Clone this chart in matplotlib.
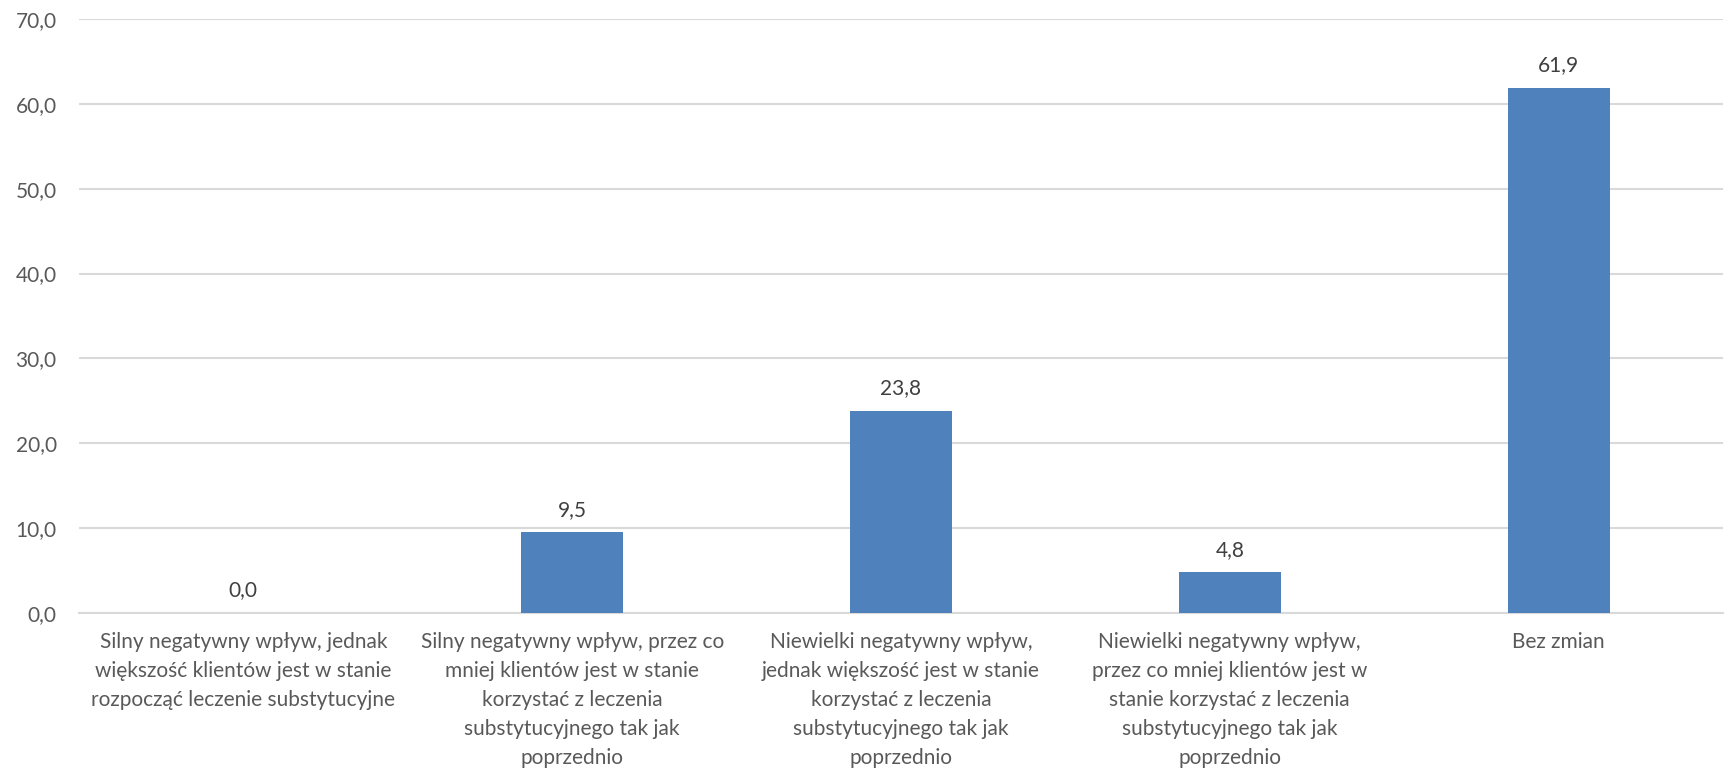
import matplotlib
matplotlib.use("Agg")
import matplotlib.pyplot as plt

categories = [
    "Silny negatywny wpływ, jednak\nwiększość klientów jest w stanie\nrozpocząć leczenie substytucyjne",
    "Silny negatywny wpływ, przez co\nmniej klientów jest w stanie\nkorzystać z leczenia\nsubstytucyjnego tak jak\npoprzednio",
    "Niewielki negatywny wpływ,\njednak większość jest w stanie\nkorzystać z leczenia\nsubstytucyjnego tak jak\npoprzednio",
    "Niewielki negatywny wpływ,\nprzez co mniej klientów jest w\nstanie korzystać z leczenia\nsubstytucyjnego tak jak\npoprzednio",
    "Bez zmian",
]
values = [0.0, 9.5, 23.8, 4.8, 61.9]
y_ticks = [0, 10, 20, 30, 40, 50, 60, 70]

plt.rcParams['font.family'] = ['Lato', 'DejaVu Sans']
text_color = '#595959'

fig = plt.figure(figsize=(17.27, 7.75), dpi=100)
ax = fig.add_axes([0.0457, 0.209, 0.952, 0.7665])

x = list(range(len(categories)))
ax.bar(x, values, width=0.31, color='#4f81bd', zorder=3)

for xi, v in zip(x, values):
    ax.annotate(f"{v:.1f}".replace('.', ','), (xi, v), xytext=(0, 9),
                textcoords='offset points', ha='center', va='bottom',
                fontsize=15, color='#404040')

ax.set_xlim(-0.5, len(categories) - 0.5)
ax.set_ylim(0, 70)
ax.set_yticks(y_ticks)
ax.set_yticklabels([f"{t:.1f}".replace('.', ',') for t in y_ticks],
                   fontsize=15, color=text_color)
ax.set_xticks(x)
ax.set_xticklabels(categories, fontsize=15, color=text_color, linespacing=1.55)

ax.yaxis.grid(True, color='#d9d9d9', linewidth=1.5, zorder=0)
ax.set_axisbelow(True)
for s in ['top', 'right', 'left']:
    ax.spines[s].set_visible(False)
ax.spines['bottom'].set_color('#d9d9d9')
ax.spines['bottom'].set_linewidth(1.5)
ax.tick_params(axis='both', length=0)
ax.tick_params(axis='y', pad=16)
ax.tick_params(axis='x', pad=14)

fig.savefig('out.png', dpi=100, facecolor='white')
